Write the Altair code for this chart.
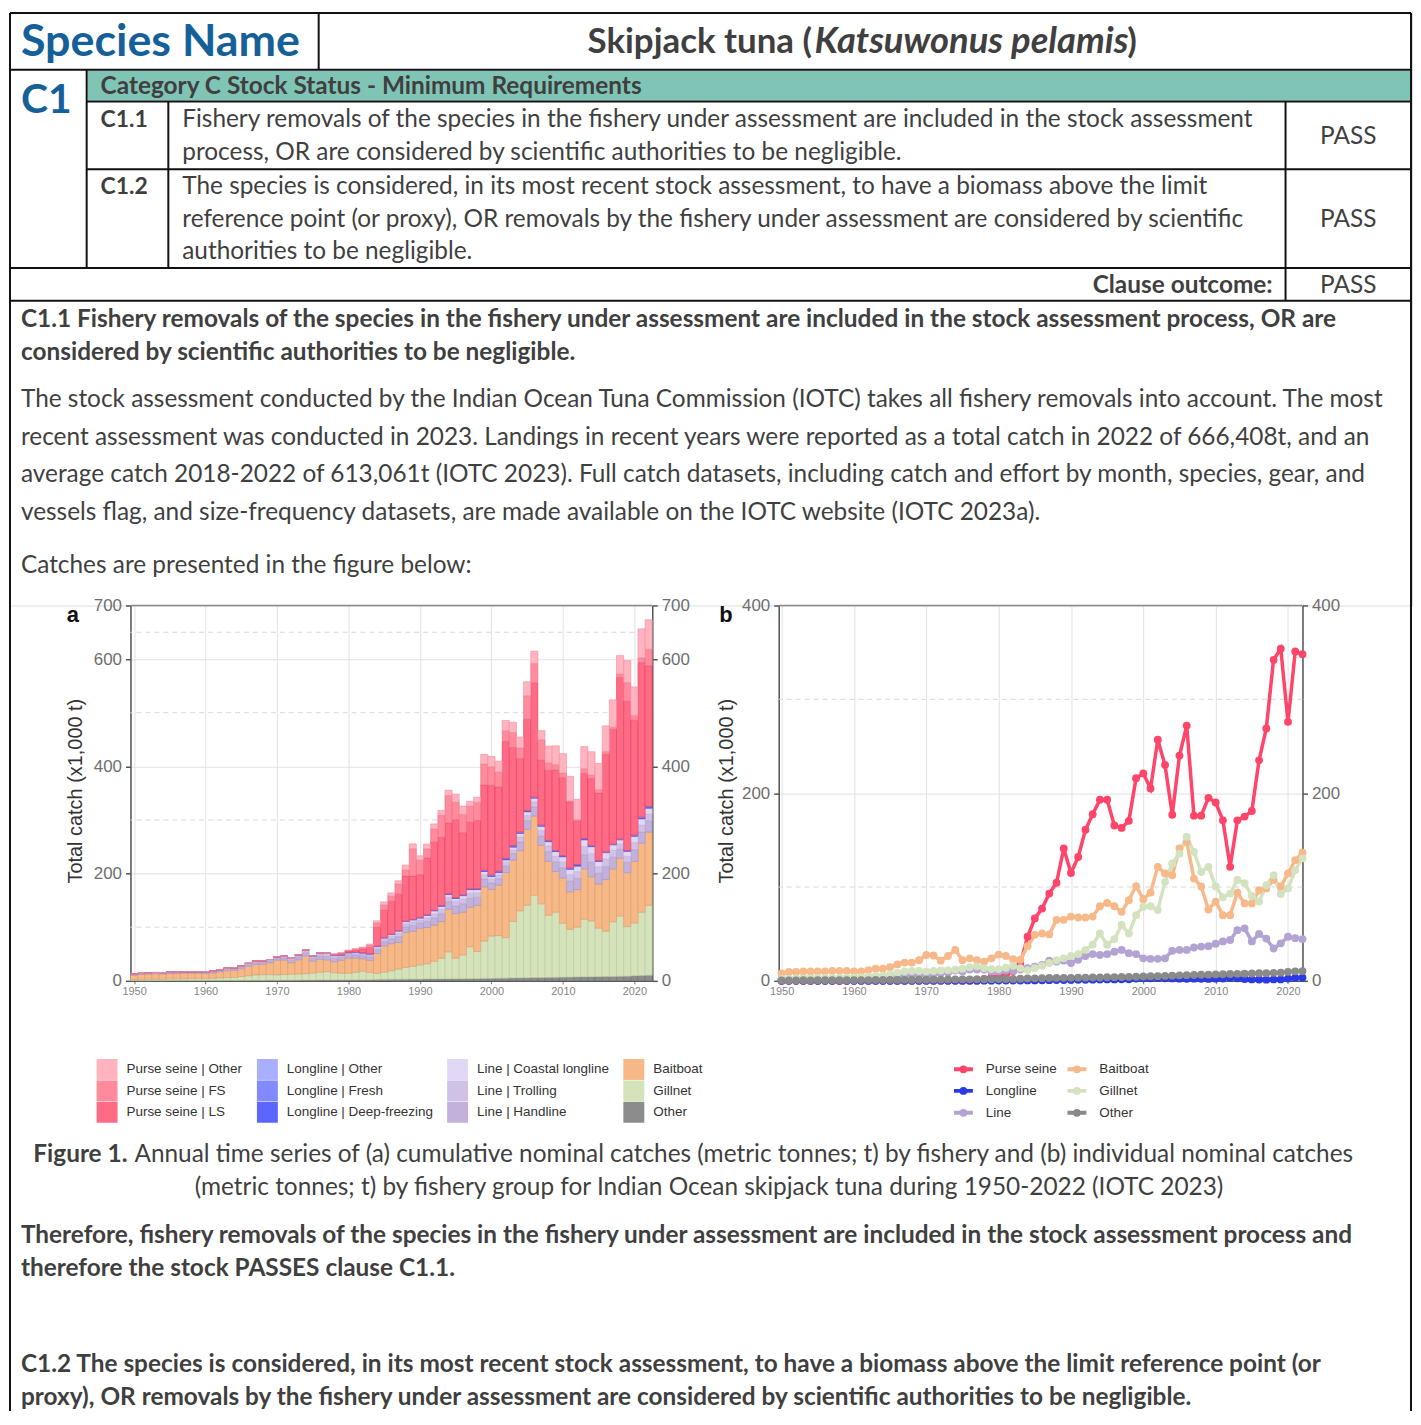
import altair as alt
import pandas as pd

# ---------------- data ----------------
YEARS = list(range(1950, 2023))
DECADES = [1950, 1960, 1970, 1980, 1990, 2000, 2010, 2020]

BAITBOAT = [8, 9.5, 9.5, 10, 10, 10, 10, 10.5, 10.5, 10.5,
            10, 10, 11.5, 13, 13, 14.5, 17.5, 19.5, 19.5, 22,
            27.5, 27, 21.5, 26.5, 33, 22, 24, 22, 20.5, 24,
            28, 26.5, 23, 22.5, 37, 49, 50.5, 49.5, 65, 65,
            68.5, 67.5, 67.5, 68.5, 79.5, 83, 79.5, 73.5, 86, 101,
            87, 94, 121.5, 114.5, 112.5, 141, 148, 109, 100.5, 76,
            84.5, 70, 70, 94, 82.5, 82.5, 96.5, 98.5, 107.5, 100.5,
            114.5, 128.5, 136.5]
GILLNET = [2, 2, 2.5, 2.5, 2.5, 3, 3, 3, 3.5, 3.5,
           3.5, 4, 4.5, 5, 5.5, 7, 8.5, 10, 10.5, 10.5,
           10, 10.5, 11, 11.5, 12, 13, 14.5, 15.5, 13.5, 12.5,
           12.5, 14, 16, 13.5, 11.5, 13.5, 16, 19, 22, 24,
           26.5, 28.5, 33, 38.5, 50.5, 38.5, 44.5, 59.5, 50.5, 70,
           79, 79.5, 75.5, 105.5, 125, 135.5, 153.5, 137.5, 116, 121.5,
           100.5, 89, 93, 107.5, 104, 90.5, 84.5, 102, 112.5, 92.5,
           98.5, 118, 130.5]
OTHER = [0.5, 0.5, 0.5, 0.6, 0.5, 0.6, 0.6, 0.7, 0.6, 0.7,
         0.7, 0.8, 0.8, 0.9, 0.9, 1, 1, 1.1, 1, 1.2,
         1.2, 1.3, 1.3, 1.4, 1.5, 1.5, 1.6, 1.7, 1.7, 1.8,
         1.9, 2, 2.1, 2.2, 2.5, 2.7, 2.9, 3, 3.1, 3.2,
         3.2, 3.4, 3.4, 3.6, 3.6, 3.8, 3.9, 4.1, 4.2, 4.4,
         4.6, 4.9, 5, 5.3, 5.5, 5.8, 6.1, 6.2, 6.5, 6.6,
         6.9, 7, 7.3, 7.5, 7.7, 7.8, 8.1, 8.2, 8.5, 8.7,
         9.6, 10.1, 10.4]
LINE_HAND = [1.2, 1.2, 1.2, 1.5, 1.5, 1.5, 1.5, 1.5, 1.5, 1.5,
             1.8, 2, 2.3, 2.6, 3, 3, 3.2, 3.5, 3.5, 3.5,
             3.5, 4, 4.5, 5, 6, 5.5, 6.5, 6.5, 6.5, 5.5,
             5.5, 6, 6, 6.5, 7, 8, 9, 11, 10.5, 11,
             10, 11.5, 13.5, 14.5, 14, 14.5, 16, 17, 15, 14.5,
             12, 12, 12, 12, 16, 16.5, 16.5, 17.5, 18, 18,
             19, 20, 21, 26, 27, 20, 24, 22, 17, 19,
             22, 21, 21]
LINE_TROLL = [0.6, 0.6, 0.6, 0.7, 0.7, 0.7, 0.7, 0.7, 0.7, 0.7,
              0.8, 1, 1.1, 1.2, 1.3, 1.3, 1.5, 1.6, 1.6, 1.6,
              1.6, 2, 2.3, 2.6, 3.2, 2.9, 3.5, 3.5, 3.5, 2.9,
              2.9, 3.2, 3.2, 3.5, 4, 4.5, 5, 6.5, 6, 6.5,
              5.5, 6.5, 7.5, 8, 8, 8.5, 9, 9.5, 8.5, 8,
              7, 7, 7, 7, 9.5, 9.5, 9.5, 10, 10.5, 10.5,
              11, 12, 12.5, 15.5, 16, 12, 14.5, 13, 10, 11.5,
              13.5, 13, 12.5]
LINE_COAST = [0.2, 0.2, 0.2, 0.3, 0.3, 0.3, 0.3, 0.3, 0.3, 0.3,
              0.4, 0.5, 0.6, 0.7, 0.7, 0.7, 0.8, 0.9, 0.9, 0.9,
              0.9, 1, 1.2, 1.4, 1.8, 1.6, 2, 2, 2, 1.6,
              1.6, 1.8, 1.8, 2, 2.5, 2.5, 3, 4, 4, 4,
              3.5, 4.5, 5.5, 6, 5.5, 5.5, 6, 6.5, 6, 6,
              5, 4.5, 4.5, 5, 6.5, 7, 7, 8, 8, 8.5,
              9.5, 10, 10, 12.5, 13, 10, 11.5, 10, 7.5, 9.5,
              11.5, 11.5, 11]
LL_DEEP = [0, 0, 0, 0, 0, 0, 0, 0, 0, 0,
           0.1, 0.1, 0.1, 0.1, 0.1, 0.1, 0.1, 0.1, 0.1, 0.1,
           0.2, 0.2, 0.2, 0.2, 0.2, 0.2, 0.2, 0.2, 0.2, 0.2,
           0.3, 0.3, 0.3, 0.3, 0.4, 0.4, 0.5, 0.5, 0.6, 0.6,
           0.6, 0.8, 0.8, 0.9, 1, 1, 1, 1.2, 1.2, 1.8,
           2, 2, 2.2, 2, 1.8, 1.5, 1.5, 1.6, 1.5, 1.4,
           1.5, 1.6, 2.2, 1.8, 1.2, 0.8, 0.7, 0.6, 0.8, 0.8,
           1.2, 1.8, 2]
LL_FRESH = [0, 0, 0, 0, 0, 0, 0, 0, 0, 0,
            0, 0, 0, 0, 0, 0, 0, 0, 0, 0,
            0, 0, 0, 0, 0, 0, 0, 0, 0, 0,
            0, 0, 0, 0, 0.1, 0.1, 0.1, 0.2, 0.2, 0.2,
            0.3, 0.3, 0.3, 0.3, 0.3, 0.4, 0.4, 0.4, 0.4, 0.5,
            0.5, 0.5, 0.6, 0.6, 0.6, 0.6, 0.5, 0.5, 0.5, 0.5,
            0.6, 0.6, 0.8, 0.7, 0.6, 0.5, 0.5, 0.5, 0.5, 0.5,
            0.8, 1, 1]
LL_OTHER = [0, 0, 0, 0, 0, 0, 0, 0, 0, 0,
            0, 0, 0, 0, 0, 0, 0, 0, 0, 0,
            0, 0, 0, 0, 0, 0, 0, 0, 0, 0,
            0, 0, 0, 0, 0, 0, 0, 0, 0, 0,
            0.1, 0.1, 0.1, 0.1, 0.1, 0.1, 0.1, 0.1, 0.1, 0.1,
            0.2, 0.2, 0.2, 0.2, 0.2, 0.2, 0.2, 0.2, 0.2, 0.2,
            0.2, 0.2, 0.2, 0.2, 0.2, 0.2, 0.2, 0.2, 0.2, 0.2,
            0.4, 0.5, 0.5]
PS_LS = [0, 0, 0, 0, 0, 0, 0, 0, 0, 0,
         0, 0, 0, 0, 0, 0, 0, 0, 0, 0,
         0, 0, 0, 0, 0, 0, 0, 0, 1.5, 2.5,
         3, 4, 7, 12, 35, 51, 61, 68, 84, 81,
         80, 106, 127, 127.5, 132, 145, 116, 124, 127, 159,
         167, 157, 218, 183, 137, 170, 213, 121, 131, 150,
         145, 123, 81, 121, 125, 126, 182, 214, 301, 278,
         214, 288, 262]
PS_FS = [0, 0, 0, 0, 0, 0, 0, 0, 0, 0,
         0, 0, 0, 0, 0, 0, 0, 0, 0, 0,
         0, 0, 0, 0, 0, 0, 0, 0, 0.5, 1,
         1, 1.5, 2.5, 4, 8, 10, 10, 19, 11.5, 51,
         27, 17, 25, 41, 51, 33, 34, 30, 34, 39,
         35, 28, 20, 28, 20, 44, 36, 38, 14, 10,
         9, 2, 2.5, 9, 7, 6, 5, 4, 7, 35,
         9, 9, 31]
PS_OTHER = [0, 0, 0, 0, 0, 0, 0, 0, 0, 0,
            0, 0, 0, 0, 0, 0, 0, 0, 0, 0,
            0, 0, 0, 0, 0, 0, 0, 0, 0, 0.5,
            0.5, 0.5, 1, 2, 4, 5.5, 6, 6, 9, 9,
            8, 9, 9, 9, 10, 15, 15.5, 9, 9.5, 18,
            19, 20, 19, 19, 20, 26, 23, 17, 31, 35,
            36, 46, 38, 41, 43, 49, 48, 51, 34, 41,
            53, 54, 55]

# stacking order (bottom -> top) for panel a
CATS_A = ["Other", "Gillnet", "Baitboat", "Line | Handline", "Line | Trolling",
          "Line | Coastal longline", "Longline | Deep-freezing", "Longline | Fresh",
          "Longline | Other", "Purse seine | LS", "Purse seine | FS", "Purse seine | Other"]
SERIES_A = [OTHER, GILLNET, BAITBOAT, LINE_HAND, LINE_TROLL, LINE_COAST,
            LL_DEEP, LL_FRESH, LL_OTHER, PS_LS, PS_FS, PS_OTHER]
FILL_A = ["#8c8c8c", "#d5e3bb", "#f6b886", "#c2b1da", "#d0c2e6", "#e2d7f4",
          "#5b66ff", "#828aff", "#a9aeff", "#ff6a84", "#ff8b9d", "#ffb4c0"]
STROKE_A = ["#6c6c6c", "#b9c99f", "#dc9c68", "#a693c3", "#b6a6d0", "#c8bbe0",
            "#3d47e0", "#646ce6", "#8a90ea", "#e23f5e", "#ea6a80", "#f08d9e"]
# legend entries, column by column
LEGEND_A = ["Purse seine | Other", "Purse seine | FS", "Purse seine | LS",
            "Longline | Other", "Longline | Fresh", "Longline | Deep-freezing",
            "Line | Coastal longline", "Line | Trolling", "Line | Handline",
            "Baitboat", "Gillnet", "Other"]

GROUPS_B = ["Purse seine", "Longline", "Line", "Baitboat", "Gillnet", "Other"]
COLORS_B = ["#ff4569", "#2a3ae6", "#b3a3d3", "#f8b98a", "#d4e3bf", "#8a8a8a"]
LEGEND_B = ["Purse seine", "Longline", "Line", "Baitboat", "Gillnet", "Other"]

MINOR_A = [100, 300, 500, 650]
MINOR_B = [100, 300]

rows_a = []
for k, (cat, vals) in enumerate(zip(CATS_A, SERIES_A)):
    for yr, v in zip(YEARS, vals):
        rows_a.append({"year": yr, "cat": cat, "v": v, "k": k})
dfa = pd.DataFrame(rows_a)

group_parts = {
    "Purse seine": [PS_LS, PS_FS, PS_OTHER],
    "Longline": [LL_DEEP, LL_FRESH, LL_OTHER],
    "Line": [LINE_HAND, LINE_TROLL, LINE_COAST],
    "Baitboat": [BAITBOAT],
    "Gillnet": [GILLNET],
    "Other": [OTHER],
}
rows_b = []
for k, g in enumerate(GROUPS_B):
    parts = group_parts[g]
    for i, yr in enumerate(YEARS):
        rows_b.append({"year": yr, "grp": g, "val": round(sum(p[i] for p in parts), 2), "k": k})
dfb = pd.DataFrame(rows_b)

# ---------------- styling helpers ----------------
FONT_C = "Liberation Sans"
GRID = "#e2e2e2"
AX = "#555555"


def left_axis(vals, title_x):
    return alt.Axis(values=vals, grid=True, gridColor=GRID, gridWidth=1, domainColor=AX,
                    domainWidth=1.5, tickColor=AX, tickSize=5, tickWidth=1.5,
                    labelColor="#6e6e6e", labelFontSize=17, labelPadding=4, labelFlush=False,
                    labelOverlap=False, labelFont=FONT_C, title="Total catch (x1,000 t)",
                    titleFontSize=20, titleFontWeight="normal", titleColor="#333333",
                    titleFont=FONT_C, titleX=title_x, titleY=186, titleBaseline="middle",
                    titleAlign="center", titleAngle=270)


def right_axis(vals):
    return alt.Axis(orient="right", values=vals, grid=False, domainColor=AX, domainWidth=1.5,
                    tickColor=AX, tickSize=5, tickWidth=1.5, labelColor="#6e6e6e",
                    labelFontSize=17, labelPadding=4, labelFlush=False, labelOverlap=False,
                    labelFont=FONT_C, title=None)


def x_axis():
    return alt.Axis(values=DECADES, format="d", grid=True, gridColor=GRID, gridWidth=1,
                    domainColor=AX, domainWidth=1.5, tickColor="#777777", tickSize=3,
                    labelColor="#858585", labelFontSize=11, labelPadding=2, labelFlush=False,
                    labelOverlap=False, labelFont=FONT_C, title=None)


# ---------------- panel a ----------------
xs_a = alt.Scale(domain=[1949.5, 2022.5], nice=False, zero=False)
ys_a = alt.Scale(domain=[0, 700], nice=False)

minor_a = alt.Chart(pd.DataFrame({"m": MINOR_A})).mark_rule(
    color="#d8d8d8", strokeDash=[5, 4], strokeWidth=1).encode(
    y=alt.Y("m:Q", scale=ys_a, axis=None))

bars = alt.Chart(dfa).transform_stack(
    stack="v", groupby=["year"], as_=["v0", "v1"], sort=[alt.SortField("k", order="ascending")]
).transform_calculate(x0="datum.year - 0.5", x1="datum.year + 0.5").mark_bar(
    strokeWidth=0.6).encode(
    x=alt.X("x0:Q", scale=xs_a, axis=x_axis()), x2="x1:Q",
    y=alt.Y("v0:Q", scale=ys_a, axis=left_axis([0, 200, 400, 600, 700], -55)), y2="v1:Q",
    color=alt.Color("cat:N", scale=alt.Scale(domain=CATS_A, range=FILL_A),
                    legend=alt.Legend(orient="none", legendX=-34, legendY=455.5, columns=4,
                                      values=LEGEND_A, title=None, symbolType="square",
                                      symbolSize=441, symbolStrokeWidth=0, symbolOpacity=1,
                                      labelFontSize=13.5, labelColor="#333333", labelFont=FONT_C,
                                      labelOffset=9, rowPadding=0.5, columnPadding=14,
                                      padding=0, labelLimit=220)),
    stroke=alt.Stroke("cat:N", scale=alt.Scale(domain=CATS_A, range=STROKE_A), legend=None),
)

top_a = alt.Chart(pd.DataFrame({"t": [700]})).mark_rule(color="#8a8a8a", strokeWidth=1.5).encode(
    y=alt.Y("t:Q", scale=ys_a, axis=right_axis([0, 200, 400, 600, 700])))

chart_a = alt.layer(minor_a, bars, top_a).resolve_axis(y="independent").properties(
    width=524, height=377)

# ---------------- panel b ----------------
xs_b = alt.Scale(domain=[1949.6, 2022], nice=False, zero=False)
ys_b = alt.Scale(domain=[0, 400], nice=False)

minor_b = alt.Chart(pd.DataFrame({"m": MINOR_B})).mark_rule(
    color="#d8d8d8", strokeDash=[5, 4], strokeWidth=1).encode(
    y=alt.Y("m:Q", scale=ys_b, axis=None))

# legend symbol: short line with a dot in the middle (stroked path)
LEG_SYM = "M-1,0L1,0M0.2,0A0.2,0.2,0,1,1,-0.2,0A0.2,0.2,0,1,1,0.2,0"
lines = alt.Chart(dfb).mark_line(strokeWidth=3.5).encode(
    x=alt.X("year:Q", scale=xs_b, axis=x_axis()),
    y=alt.Y("val:Q", scale=ys_b, axis=left_axis([0, 200, 400], -52)),
    stroke=alt.Stroke("grp:N", scale=alt.Scale(domain=GROUPS_B, range=COLORS_B),
                      legend=alt.Legend(orient="none", legendX=174, legendY=454, columns=2,
                                        direction="vertical", values=LEGEND_B, title=None,
                                        symbolType=LEG_SYM, symbolSize=361,
                                        symbolStrokeWidth=4, symbolOpacity=1,
                                        labelFontSize=13.5, labelColor="#333333",
                                        labelFont=FONT_C, labelOffset=11, rowPadding=0,
                                        columnPadding=2, padding=0)),
    order="year:Q",
)

points = alt.Chart(dfb).mark_circle(size=62, opacity=1).encode(
    x=alt.X("year:Q", scale=xs_b, axis=x_axis()),
    y=alt.Y("val:Q", scale=ys_b, axis=None),
    color=alt.Color("grp:N", scale=alt.Scale(domain=GROUPS_B, range=COLORS_B), legend=None),
)

top_b = alt.Chart(pd.DataFrame({"t": [400]})).mark_rule(color="#8a8a8a", strokeWidth=1.5).encode(
    y=alt.Y("t:Q", scale=ys_b, axis=right_axis([0, 200, 400])))

chart_b = alt.layer(minor_b, lines, points, top_b).resolve_axis(y="independent").properties(
    width=526, height=377)

# ---------------- document layer (page layout) ----------------
OFF = 8  # page margin
GREY = "#3f3f3f"
BLUE = "#16609a"
DOC_W, DOC_H = 1409, 596

RULES = [  # x1, x2, y1, y2 (page px)
    (9, 1416, 9, 9), (9, 1416, 66, 66), (86, 1416, 98, 98), (86, 1416, 166, 166),
    (9, 1416, 265, 265), (9, 1416, 298, 298),
    (9, 9, 9, 1413), (1416, 1416, 9, 1413), (319, 319, 9, 66), (86, 86, 66, 265),
    (168, 168, 98, 265), (1290, 1290, 98, 298),
]
BANDS = [(87, 1415, 67, 97, "#80c4b6")]

BODY = 24.5
TEXTS = [
    # text, x, y, size, color, font, weight, style, align
    ("Species Name", 20, 38, 45, BLUE, "Lato", "bold", "normal", "left"),
    ("Skipjack tuna (", 589, 38, 35, GREY, "Lato", "bold", "normal", "left"),
    ("Katsuwonus pelamis", 817, 38, 36.5, GREY, "Lato", "bold", "italic", "left"),
    (")", 1131, 38, 35, GREY, "Lato", "bold", "normal", "left"),
    ("C1", 20, 97, 41, BLUE, "Lato", "bold", "normal", "left"),
    ("Category C Stock Status - Minimum Requirements", 100, 83, BODY, GREY, "Lato", "bold", "normal", "left"),
    ("C1.1", 100, 117, 23, GREY, "Lato", "bold", "normal", "left"),
    ("C1.2", 100, 184, 23, GREY, "Lato", "bold", "normal", "left"),
    ("Fishery removals of the species in the fishery under assessment are included in the stock assessment",
     182, 117, BODY, GREY, "Lato", "normal", "normal", "left"),
    ("process, OR are considered by scientific authorities to be negligible.",
     182, 150, BODY, GREY, "Lato", "normal", "normal", "left"),
    ("The species is considered, in its most recent stock assessment, to have a biomass above the limit",
     182, 184, BODY, GREY, "Lato", "normal", "normal", "left"),
    ("reference point (or proxy), OR removals by the fishery under assessment are considered by scientific",
     182, 217, BODY, GREY, "Lato", "normal", "normal", "left"),
    ("authorities to be negligible.", 182, 249, BODY, GREY, "Lato", "normal", "normal", "left"),
    ("PASS", 1353, 134, BODY, GREY, "Lato", "normal", "normal", "center"),
    ("PASS", 1353, 217, BODY, GREY, "Lato", "normal", "normal", "center"),
    ("PASS", 1353, 283, BODY, GREY, "Lato", "normal", "normal", "center"),
    ("Clause outcome:", 1277, 283, BODY, GREY, "Lato", "bold", "normal", "right"),
    ("C1.1 Fishery removals of the species in the fishery under assessment are included in the stock assessment process, OR are",
     20, 317, BODY, GREY, "Lato", "bold", "normal", "left"),
    ("considered by scientific authorities to be negligible.", 20, 350, BODY, GREY, "Lato", "bold", "normal", "left"),
    ("The stock assessment conducted by the Indian Ocean Tuna Commission (IOTC) takes all fishery removals into account. The most",
     20, 398, BODY, GREY, "Lato", "normal", "normal", "left"),
    ("recent assessment was conducted in 2023. Landings in recent years were reported as a total catch in 2022 of 666,408t, and an",
     20, 436, BODY, GREY, "Lato", "normal", "normal", "left"),
    ("average catch 2018-2022 of 613,061t (IOTC 2023). Full catch datasets, including catch and effort by month, species, gear, and",
     20, 473, BODY, GREY, "Lato", "normal", "normal", "left"),
    ("vessels flag, and size-frequency datasets, are made available on the IOTC website (IOTC 2023a).",
     20, 511, BODY, GREY, "Lato", "normal", "normal", "left"),
    ("Catches are presented in the figure below:", 20, 564, BODY, GREY, "Lato", "normal", "normal", "left"),
    ("a", 72, 614, 22, "#111111", FONT_C, "bold", "normal", "center"),
    ("b", 728, 614, 22, "#111111", FONT_C, "bold", "normal", "center"),
    ("Figure 1.", 127, 1156, BODY, GREY, "Lato", "bold", "normal", "right"),
    ("Annual time series of (a) cumulative nominal catches (metric tonnes; t) by fishery and (b) individual nominal catches",
     134, 1156, BODY, GREY, "Lato", "normal", "normal", "left"),
    ("(metric tonnes; t) by fishery group for Indian Ocean skipjack tuna during 1950-2022 (IOTC 2023)",
     711, 1189, BODY, GREY, "Lato", "normal", "normal", "center"),
    ("Therefore, fishery removals of the species in the fishery under assessment are included in the stock assessment process and",
     20, 1237, BODY, GREY, "Lato", "bold", "normal", "left"),
    ("therefore the stock PASSES clause C1.1.", 20, 1270, BODY, GREY, "Lato", "bold", "normal", "left"),
    ("C1.2 The species is considered, in its most recent stock assessment, to have a biomass above the limit reference point (or",
     20, 1367, BODY, GREY, "Lato", "bold", "normal", "left"),
    ("proxy), OR removals by the fishery under assessment are considered by scientific authorities to be negligible.",
     20, 1400, BODY, GREY, "Lato", "bold", "normal", "left"),
]

doc_layers = []
bands_df = pd.DataFrame([{"x1": a - OFF, "x2": b - OFF, "y1": c - OFF, "y2": d - OFF}
                         for a, b, c, d, _ in BANDS])
doc_layers.append(alt.Chart(bands_df).mark_rect(color=BANDS[0][4]).encode(
    x=alt.X("x1:Q", scale=None, axis=None), x2="x2:Q",
    y=alt.Y("y1:Q", scale=None, axis=None), y2="y2:Q"))
rules_df = pd.DataFrame([{"x1": a - OFF, "x2": b - OFF, "y1": c - OFF, "y2": d - OFF}
                         for a, b, c, d in RULES])
doc_layers.append(alt.Chart(rules_df).mark_rule(color="#111111", strokeWidth=2).encode(
    x=alt.X("x1:Q", scale=None, axis=None), x2="x2:Q",
    y=alt.Y("y1:Q", scale=None, axis=None), y2="y2:Q"))

groups = {}
for t, x, y, s, c, f, w, st, al in TEXTS:
    groups.setdefault((s, c, f, w, st, al), []).append({"t": t, "x": x - OFF, "y": y - OFF})
for (s, c, f, w, st, al), items in groups.items():
    doc_layers.append(alt.Chart(pd.DataFrame(items)).mark_text(
        fontSize=s, color=c, font=f, fontWeight=w, fontStyle=st, align=al, baseline="middle").encode(
        x=alt.X("x:Q", scale=None, axis=None), y=alt.Y("y:Q", scale=None, axis=None), text="t:N"))

doc = alt.layer(*doc_layers).properties(width=DOC_W, height=DOC_H)


def spacer(w):
    return alt.Chart(pd.DataFrame({"s": [""]})).mark_text().encode(text="s:N").properties(
        width=w, height=377)


middle = alt.hconcat(spacer(122), chart_a, spacer(127), chart_b, spacing=0, bounds="flush").resolve_scale(
    color="independent", fill="independent", stroke="independent").resolve_legend(
    color="independent", fill="independent", stroke="independent")

chart = alt.vconcat(doc, middle, spacing=0, bounds="flush").resolve_scale(
    color="independent", fill="independent", stroke="independent").resolve_legend(
    color="independent", fill="independent", stroke="independent").properties(
    padding=0).configure_view(stroke=None).configure(font=FONT_C, background="white")

chart.save("out.html", embed_options={"renderer": "svg", "actions": False})
